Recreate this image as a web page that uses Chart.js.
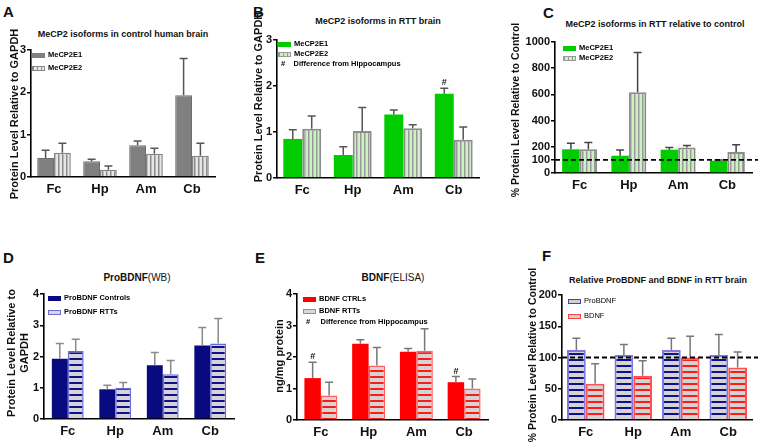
<!DOCTYPE html>
<html>
<head>
<meta charset="utf-8">
<script src="https://cdn.jsdelivr.net/npm/chart.js@4/dist/chart.umd.min.js"></script>
<style>
  body { margin: 0; background: #fff; font-family: "Liberation Sans", Arial, sans-serif; }
  #fig { position: relative; width: 758px; height: 444px; overflow: hidden; }
  canvas { position: absolute; }
  .t { position: absolute; white-space: nowrap; color: #111; }
  .letter { font-weight: bold; font-size: 15px; }
  .title { font-weight: bold; font-size: 9px; transform: translateX(-50%); }
  .ytitle { font-weight: bold; font-size: 11px; transform: translate(-50%, -50%) rotate(-90deg); text-align: center; line-height: 13px; }
  .leg { position: absolute; font-weight: bold; font-size: 7.5px; white-space: nowrap; line-height: 9px; }
  .sw { display: inline-block; width: 13px; height: 5px; vertical-align: middle; margin-right: 3px; box-sizing: border-box; }
</style>
</head>
<body>
<div id="fig">
  <canvas id="cA"></canvas><canvas id="cB"></canvas><canvas id="cC"></canvas>
  <canvas id="cD"></canvas><canvas id="cE"></canvas><canvas id="cF"></canvas>

  <div class="t letter" style="left:3px;top:3px">A</div>
  <div class="t letter" style="left:253px;top:3px">B</div>
  <div class="t letter" style="left:543px;top:4px">C</div>
  <div class="t letter" style="left:3px;top:249px">D</div>
  <div class="t letter" style="left:255px;top:249px">E</div>
  <div class="t letter" style="left:542px;top:247px">F</div>

  <div class="t title" style="left:123px;top:29px">MeCP2 isoforms in control human brain</div>
  <div class="t title" style="left:378px;top:16px">MeCP2 isoforms in RTT brain</div>
  <div class="t title" style="left:655px;top:19px">MeCP2 isoforms in RTT relative to control</div>
  <div class="t title" style="left:137px;top:272px;font-size:10px">ProBDNF<span style="font-weight:normal">(WB)</span></div>
  <div class="t title" style="left:393px;top:272px;font-size:10px">BDNF<span style="font-weight:normal">(ELISA)</span></div>
  <div class="t title" style="left:658px;top:275px">Relative ProBDNF and BDNF in RTT brain</div>

  <div class="t ytitle" style="left:14px;top:114px">Protein Level Relative to GAPDH</div>
  <div class="t ytitle" style="left:258px;top:97px">Protein Level Relative to GAPDH</div>
  <div class="t ytitle" style="left:515px;top:110px;font-size:10.5px">% Protein Level Relative to Control</div>
  <div class="t ytitle" style="left:18px;top:353px">Protein Level Relative to<br>GAPDH</div>
  <div class="t ytitle" style="left:279px;top:356px">ng/mg protein</div>
  <div class="t ytitle" style="left:532px;top:355px;font-size:10.5px">% Protein Level Relative to Control</div>

  <div class="leg" style="left:32px;top:50px"><span class="sw" style="background:#808080"></span>MeCP2E1</div>
  <div class="leg" style="left:32px;top:63px"><span class="sw" style="border:1px solid #888;background:repeating-linear-gradient(90deg,#8c8c8c 0 1.5px,#e6e6e6 1.5px 4px)"></span>MeCP2E2</div>
  <div class="leg" style="left:278px;top:39px"><span class="sw" style="background:#00cc00"></span>MeCP2E1</div>
  <div class="leg" style="left:278px;top:49px"><span class="sw" style="border:1px solid #999;background:repeating-linear-gradient(90deg,#999 0 1.5px,#ccf2c4 1.5px 4px)"></span>MeCP2E2</div>
  <div class="leg" style="left:281px;top:59px">#&nbsp;&nbsp;&nbsp;&nbsp;Difference from Hippocampus</div>
  <div class="leg" style="left:563px;top:43px"><span class="sw" style="background:#00cc00"></span>MeCP2E1</div>
  <div class="leg" style="left:563px;top:53px"><span class="sw" style="border:1px solid #999;background:repeating-linear-gradient(90deg,#999 0 1.5px,#ccf2c4 1.5px 4px)"></span>MeCP2E2</div>
  <div class="leg" style="left:48px;top:293px"><span class="sw" style="background:#0a0a80"></span>ProBDNF Controls</div>
  <div class="leg" style="left:48px;top:307px"><span class="sw" style="border:1px solid #6b6bd6;background:#d8d8e0"></span>ProBDNF RTTs</div>
  <div class="leg" style="left:303px;top:294px"><span class="sw" style="background:#ff0000"></span>BDNF CTRLs</div>
  <div class="leg" style="left:303px;top:306px"><span class="sw" style="border:1px solid #ff6060;background:#d8d8d8"></span>BDNF RTTs</div>
  <div class="leg" style="left:306px;top:317px">#&nbsp;&nbsp;&nbsp;&nbsp;&nbsp;Difference from Hippocampus</div>
  <div class="leg" style="left:568px;top:296px;font-weight:normal"><span class="sw" style="border:1.5px solid #4040c0;background:#d0d0d0"></span>ProBDNF</div>
  <div class="leg" style="left:568px;top:311px;font-weight:normal"><span class="sw" style="border:1.5px solid #ff4040;background:#d0d0d0"></span>BDNF</div>
</div>

<script>
const categories = ['Fc', 'Hp', 'Am', 'Cb'];

// A: control human brain
const aE1 = [0.45, 0.37, 0.75, 1.93];
const aE1Err = [0.63, 0.42, 0.85, 2.8];
const aE2 = [0.57, 0.17, 0.55, 0.5];
const aE2Err = [0.8, 0.26, 0.68, 0.8];
const ticksA = [0, 1, 2, 3];

// B: RTT brain
const bE1 = [0.85, 0.5, 1.38, 1.83];
const bE1Err = [1.05, 0.68, 1.48, 1.95];
const bE2 = [1.07, 1.02, 1.08, 0.83];
const bE2Err = [1.35, 1.53, 1.16, 1.11];
const bHash = [false, false, false, true];

// C: RTT relative to control (%)
const cE1 = [181, 132, 178, 94];
const cE1Err = [228, 176, 195, 100];
const cE2 = [181, 616, 195, 160];
const cE2Err = [232, 920, 210, 216];
const ticksC = [0, 100, 200, 400, 600, 800, 1000];

// D: ProBDNF (WB)
const dCtrl = [1.93, 0.95, 1.72, 2.35];
const dCtrlErr = [2.42, 1.08, 2.13, 2.93];
const dRtt = [2.18, 1.0, 1.43, 2.42];
const dRttErr = [2.55, 1.17, 1.87, 3.22];
const ticksD = [0, 1, 2, 3, 4];

// E: BDNF (ELISA)
const eCtrl = [1.33, 2.42, 2.17, 1.2];
const eCtrlErr = [1.83, 2.55, 2.27, 1.38];
const eRtt = [0.78, 1.73, 2.2, 1.0];
const eRttErr = [1.2, 2.3, 2.9, 1.3];
const eHash = [true, false, false, true];

// F: relative ProBDNF / BDNF (%)
const fPro = [112, 104, 112, 104];
const fProErr = [131, 121, 131, 137];
const fBdnf = [58, 71, 100, 84];
const fBdnfErr = [90, 95, 134, 109];
const ticksF = [0, 50, 100, 150, 200];

const FONT = '"Liberation Sans", Arial, sans-serif';

function stripes(bg, fg, vertical, period, lw) {
  const c = document.createElement('canvas');
  c.width = period; c.height = period;
  const g = c.getContext('2d');
  g.fillStyle = bg; g.fillRect(0, 0, period, period);
  g.fillStyle = fg;
  if (vertical) g.fillRect(0, 0, lw, period); else g.fillRect(0, 0, period, lw);
  return g.createPattern(c, 'repeat');
}

const errorBars = {
  id: 'errorBars',
  afterDatasetsDraw(chart) {
    const ctx = chart.ctx, y = chart.scales.y;
    chart.data.datasets.forEach((ds, i) => {
      const meta = chart.getDatasetMeta(i);
      meta.data.forEach((el, j) => {
        const top = y.getPixelForValue(ds.err[j]);
        ctx.save();
        ctx.strokeStyle = ds.errColor; ctx.lineWidth = 1.5;
        ctx.beginPath();
        ctx.moveTo(el.x, el.y); ctx.lineTo(el.x, top);
        ctx.moveTo(el.x - 4, top); ctx.lineTo(el.x + 4, top);
        ctx.stroke();
        if (ds.hash && ds.hash[j]) {
          ctx.fillStyle = '#111';
          ctx.font = 'bold 9px ' + FONT;
          ctx.textAlign = 'center'; ctx.textBaseline = 'bottom';
          ctx.fillText('#', el.x, top - 1);
        }
        ctx.restore();
      });
    });
  }
};

const refLine = {
  id: 'refLine',
  afterDatasetsDraw(chart, args, opts) {
    if (opts.value == null) return;
    const ctx = chart.ctx, y = chart.scales.y.getPixelForValue(opts.value);
    ctx.save();
    ctx.strokeStyle = '#000'; ctx.lineWidth = 1.8; ctx.setLineDash([5, 3]);
    ctx.beginPath(); ctx.moveTo(chart.chartArea.left, y); ctx.lineTo(chart.width, y); ctx.stroke();
    ctx.restore();
  }
};

function panel(id, box, yMax, ticks, catPct, datasets, refValue) {
  const yW = 45, xH = 24, padT = 8, padR = 6;
  const cv = document.getElementById(id);
  cv.width = box.r - box.l + yW + padR;
  cv.height = box.b - box.t + padT + xH;
  cv.style.left = (box.l - yW) + 'px';
  cv.style.top = (box.t - padT) + 'px';
  datasets.forEach(d => { d.categoryPercentage = catPct; d.barPercentage = 1.0; });
  return new Chart(cv.getContext('2d'), {
    type: 'bar',
    data: { labels: categories, datasets: datasets },
    options: {
      responsive: false,
      animation: false,
      layout: { padding: { top: padT, right: padR, left: 0, bottom: 0 } },
      plugins: { legend: { display: false }, tooltip: { enabled: false }, refLine: { value: refValue } },
      scales: {
        x: {
          grid: { display: false, drawTicks: false },
          border: { color: '#000', width: 1.6 },
          ticks: { color: '#111', padding: 5, font: { family: FONT, size: 13, weight: 'bold' } },
          afterFit(s) { s.height = xH; }
        },
        y: {
          min: 0, max: yMax,
          grid: { drawOnChartArea: false, drawTicks: true, tickLength: 4, color: '#000', lineWidth: 1.5 },
          border: { color: '#000', width: 1.6 },
          ticks: { color: '#111', padding: 1, font: { family: FONT, size: 11, weight: 'bold' }, callback: v => String(v) },
          afterBuildTicks(s) { s.ticks = ticks.map(v => ({ value: v })); },
          afterFit(s) { s.width = yW; }
        }
      }
    },
    plugins: [errorBars, refLine]
  });
}

const vGray = stripes('#e6e6e6', '#8c8c8c', true, 4, 1.5);
const vGreen = stripes('#ccf2c4', '#999999', true, 4, 1.5);
const hNavy = stripes('#d4d4d8', '#10108a', false, 6, 2);
const hRed = stripes('#d4d4d4', '#ff1a1a', false, 6, 2);

panel('cA', { l: 31, r: 215, t: 50, b: 177 }, 3, ticksA, 0.73, [
  { data: aE1, err: aE1Err, errColor: '#555', backgroundColor: '#808080', borderColor: '#6e6e6e', borderWidth: 1 },
  { data: aE2, err: aE2Err, errColor: '#555', backgroundColor: vGray, borderColor: '#858585', borderWidth: 1.5 }
]);

panel('cB', { l: 277, r: 479, t: 40, b: 178 }, 3, ticksA, 0.75, [
  { data: bE1, err: bE1Err, hash: bHash, errColor: '#555', backgroundColor: '#00cc00', borderWidth: 0 },
  { data: bE2, err: bE2Err, errColor: '#555', backgroundColor: vGreen, borderColor: '#8c8c8c', borderWidth: 2 }
]);

panel('cC', { l: 555, r: 752, t: 42, b: 173 }, 1000, ticksC, 0.71, [
  { data: cE1, err: cE1Err, errColor: '#444', backgroundColor: '#00cc00', borderWidth: 0 },
  { data: cE2, err: cE2Err, errColor: '#444', backgroundColor: vGreen, borderColor: '#8c8c8c', borderWidth: 2 }
], 100);

panel('cD', { l: 44, r: 234, t: 294, b: 419 }, 4, ticksD, 0.67, [
  { data: dCtrl, err: dCtrlErr, errColor: '#8a8a8a', backgroundColor: '#0a0a80', borderWidth: 0 },
  { data: dRtt, err: dRttErr, errColor: '#8a8a8a', backgroundColor: hNavy, borderColor: '#6b6bd6', borderWidth: 1.5 }
]);

panel('cE', { l: 297, r: 488, t: 294, b: 420 }, 4, ticksD, 0.69, [
  { data: eCtrl, err: eCtrlErr, hash: eHash, errColor: '#777', backgroundColor: '#ff0000', borderWidth: 0 },
  { data: eRtt, err: eRttErr, errColor: '#777', backgroundColor: hRed, borderColor: '#ff6060', borderWidth: 1.5 }
]);

panel('cF', { l: 562, r: 752, t: 295, b: 420 }, 200, ticksF, 0.79, [
  { data: fPro, err: fProErr, errColor: '#777', backgroundColor: hNavy, borderColor: '#7a7ae0', borderWidth: 2 },
  { data: fBdnf, err: fBdnfErr, errColor: '#777', backgroundColor: hRed, borderColor: '#ff5050', borderWidth: 2 }
], 100);
</script>
</body>
</html>
